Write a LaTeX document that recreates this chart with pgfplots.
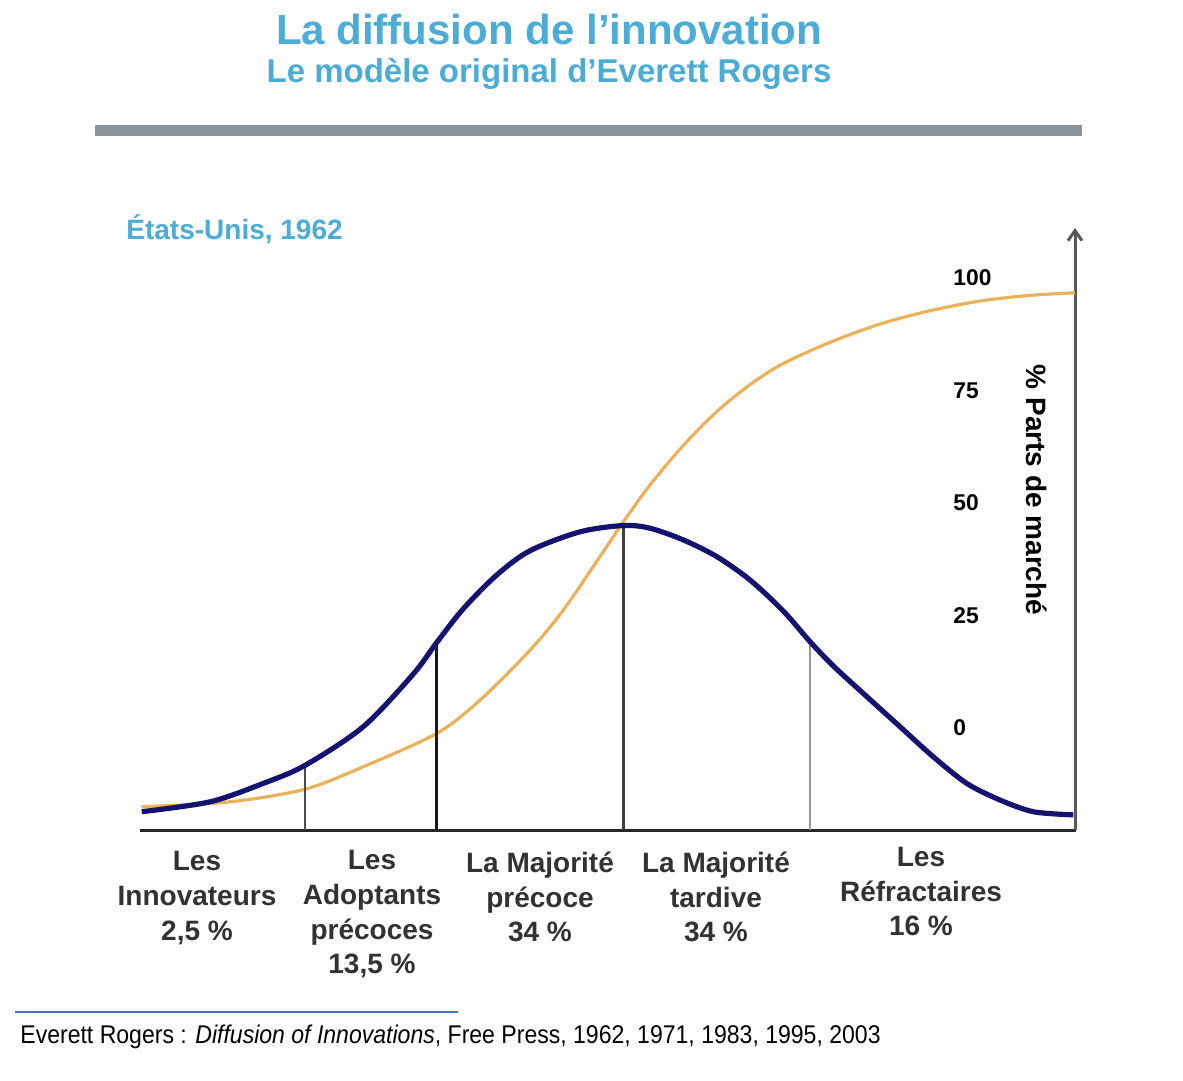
\documentclass[border=0pt]{standalone}
\usepackage{pgfplots}
\pgfplotsset{compat=1.18}
\usepackage{fontspec}
\setmainfont{Liberation Sans}
\newfontfamily\narrowfont[FakeStretch=0.9]{Liberation Sans}
\usetikzlibrary{arrows.meta}
\definecolor{titleblue}{RGB}{75,172,214}
\definecolor{navy}{RGB}{20,20,112}
\definecolor{tan}{RGB}{234,178,90}
\definecolor{bargray}{RGB}{138,148,155}
\definecolor{labgray}{RGB}{50,50,50}
\definecolor{linkblue}{RGB}{68,114,196}
\tikzset{catlab/.style={font=\bfseries\fontsize{14}{17.3}\selectfont, text=labgray, align=center},
  ticklab/.style={font=\bfseries\fontsize{11.4}{13}\selectfont, anchor=west, inner sep=0pt}}
\begin{document}
\begin{tikzpicture}
\begin{axis}[
  scale only axis,
  width=467.5pt, height=301pt,
  xmin=140, xmax=1075,
  ymin=-22.667, ymax=111.11,
  axis lines=none,
  clip=false,
]
% bounding box of the whole picture (1183 x 1080 px)
\path (axis cs:0,161.78) rectangle (axis cs:1183,-78.22);

% title
\node[font=\bfseries\fontsize{21}{25}\selectfont, text=titleblue] at (axis cs:549,155.3) {La diffusion de l’innovation};
\node[font=\bfseries\fontsize{16.5}{20}\selectfont, text=titleblue] at (axis cs:549,145.3) {Le modèle original d’Everett Rogers};
\draw[bargray, line width=5.5pt] (axis cs:95,132.67) -- (axis cs:1082,132.67);

\node[font=\bfseries\fontsize{14}{17}\selectfont, text=titleblue, anchor=west, inner sep=0pt] at (axis cs:126,110.9) {États-Unis, 1962};

% axes
\draw[black!85, line width=1.5pt] (axis cs:140,-22.667) -- (axis cs:1076,-22.667);
\draw[black!65, line width=1.5pt, -{Straight Barb[length=5pt,width=7pt]}] (axis cs:1075,-22.667) -- (axis cs:1075,111.11);

% tick labels
\node[ticklab] at (axis cs:953,0) {0};
\node[ticklab] at (axis cs:953,25) {25};
\node[ticklab] at (axis cs:953,50) {50};
\node[ticklab] at (axis cs:953,75) {75};
\node[ticklab] at (axis cs:953,100) {100};
\node[font=\bfseries\fontsize{14}{17}\selectfont, rotate=-90] at (axis cs:1037,52.9) {\% Parts de marché};

% S-curve (cumulative adoption)
\addplot[tan, line width=1.6pt, smooth] coordinates {
(141.7,-17.5) (230,-16.4) (305,-13.6) (363.3,-8.6) (436.7,-1.2) (480,6.2)
(530,17.3) (563.3,26.2) (600,38.1) (623.3,45.8) (650,54.0) (683.3,62.8)
(716.7,70.3) (750,76.3) (783.3,81.0) (833.3,86.0) (883.3,90.0) (933.3,92.9)
(983.3,95.0) (1033.3,96.2) (1075,96.7)
};

% category separators
\addplot[black!70, line width=1pt] coordinates {(305,-22.667) (305,-8.3)};
\addplot[black!90, line width=1.5pt] coordinates {(436.7,-22.667) (436.7,19.0)};
\addplot[black!75, line width=1.5pt] coordinates {(623.3,-22.667) (623.3,45.0)};
\addplot[black!40, line width=1pt] coordinates {(810,-22.667) (810,19.2)};

% bell curve (adopters)
\addplot[navy, line width=2.6pt, smooth] coordinates {
(141.7,-18.6) (210,-16.4) (263.3,-12.3) (305,-8.3) (363.3,0.3) (413.3,12.0)
(436.7,19.0) (463.3,26.5) (496.7,34.0) (530,39.4) (580,43.6) (623.3,45.0)
(650,44.4) (683.3,41.8) (716.7,38.1) (750,32.9) (783.3,26.0) (810,19.2)
(833.3,13.8) (866.7,7.0) (900,0.3) (933.3,-6.4) (966.7,-12.3) (1000,-16.0)
(1033.3,-18.6) (1073.3,-19.3)
};

% category labels
\node[catlab] at (axis cs:197,-37.8) {Les\\Innovateurs\\2,5 \%};
\node[catlab] at (axis cs:372,-41.4) {Les\\Adoptants\\précoces\\13,5 \%};
\node[catlab] at (axis cs:540,-37.6) {La Majorité\\précoce\\34 \%};
\node[catlab] at (axis cs:716,-37.6) {La Majorité\\tardive\\34 \%};
\node[catlab] at (axis cs:921,-36.4) {Les\\Réfractaires\\16 \%};

% footer
\draw[linkblue, line width=0.8pt] (axis cs:15,-63.1) -- (axis cs:458,-63.1);
\node[font=\narrowfont\fontsize{12.8}{15}\selectfont, anchor=west, inner sep=0pt] at (axis cs:20,-68.7) {Everett Rogers : \textit{Diffusion of Innovations}, Free Press, 1962, 1971, 1983, 1995, 2003};
\end{axis}
\end{tikzpicture}
\end{document}
